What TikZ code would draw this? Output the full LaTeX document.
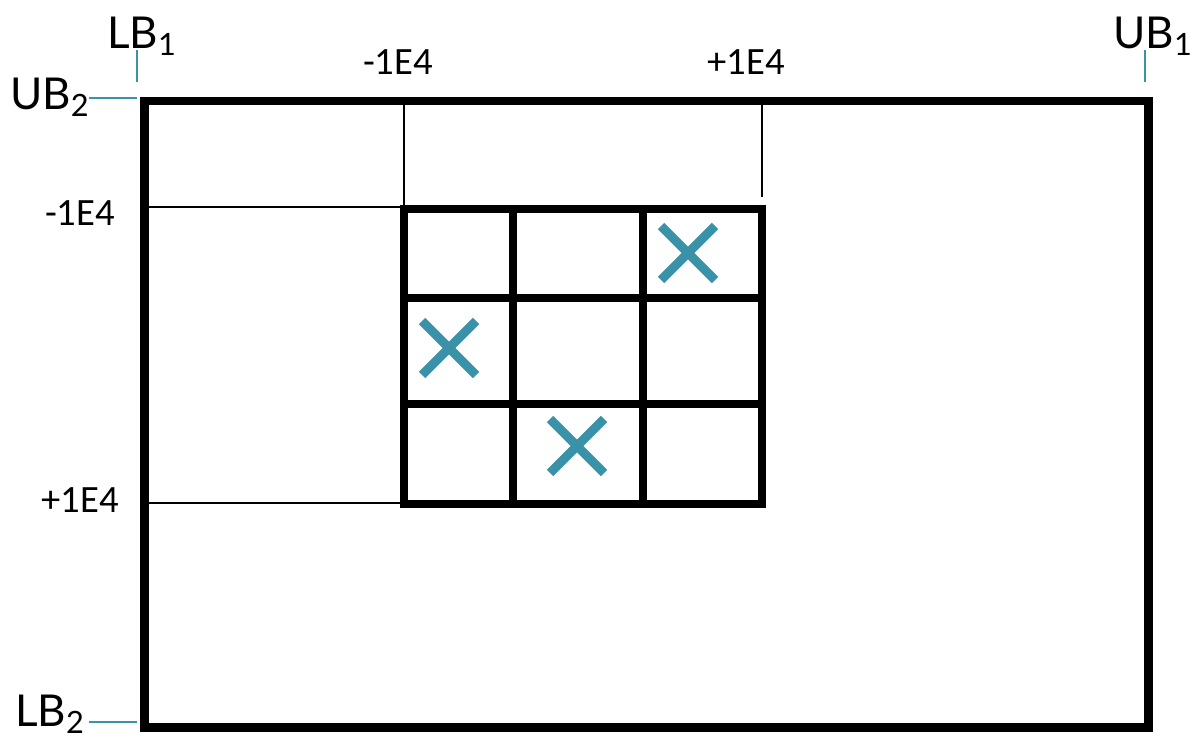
\documentclass[tikz,border=0pt]{standalone}
\usepackage{fontspec}
\setmainfont{Lato}
\newfontfamily\numfont{Carlito}
\usetikzlibrary{positioning}

\definecolor{teal}{HTML}{3A92A8}

\begin{document}
\begin{tikzpicture}[x=0.02cm, y=-0.02cm,
    frame/.style={draw, line width=0.18cm},
    grid/.style={draw, line width=0.16cm},
    guide/.style={draw, line width=0.7pt},
    tick/.style={draw=teal, line width=1.1pt},
    cross/.style={draw=teal, line width=0.18cm},
    bound/.style={font=\fontsize{25}{27}\selectfont, inner sep=0pt},
    value/.style={font=\numfont\fontsize{22}{24}\selectfont, inner sep=0pt}]
    \useasboundingbox (0,0) rectangle (1193,740);

    % corners of the outer box and of the grid
    \coordinate (tl) at (144,101);
    \coordinate (br) at (1148,727);
    \coordinate (gtl) at (404,209);
    \coordinate (gbr) at (762,504);

    \draw[frame] (tl) rectangle (br);
    \draw[grid] (gtl) rectangle (gbr);
    \draw[grid] (513,209) -- (513,504);
    \draw[grid] (643,209) -- (643,504);
    \draw[grid] (404,298) -- (762,298);
    \draw[grid] (404,404) -- (762,404);

    % guides to the value labels
    \draw[guide] (148,207) -- (404,207);
    \draw[guide] (148,503) -- (404,503);
    \draw[guide] (404,105) -- (gtl);
    \draw[guide] (762,105) -- (762,197);

    % bounds
    \node[bound] (lb1) at (142,36) {LB\textsubscript{1}};
    \node[bound] (ub1) at (1153,36) {UB\textsubscript{1}};
    \node[bound] (ub2) at (50,97) {UB\textsubscript{2}};
    \node[bound] (lb2) at (50,714) {LB\textsubscript{2}};
    \coordinate (lb1t) at (137,82);
    \coordinate (ub1t) at (1145,82);
    \coordinate (ub2t) at (137,98);
    \coordinate (lb2t) at (137,722);
    \draw[tick] (137,50) -- (lb1t);
    \draw[tick] (1145,50) -- (ub1t);
    \draw[tick] (89,98) -- (ub2t);
    \draw[tick] (89,722) -- (lb2t);

    % values
    \node[value] (xlo) at (398,62) {-1E4};
    \node[value] (xhi) at (746,62) {+1E4};
    \node[value] (ylo) at (80,213) {-1E4};
    \node[value] (yhi) at (80,500) {+1E4};

    % crosses
    \foreach \cx/\cy in {688/253, 449/348, 577/446} {
        \draw[cross] (\cx-27,\cy-27) -- (\cx+27,\cy+27);
        \draw[cross] (\cx-27,\cy+27) -- (\cx+27,\cy-27);
    }
\end{tikzpicture}
\end{document}
